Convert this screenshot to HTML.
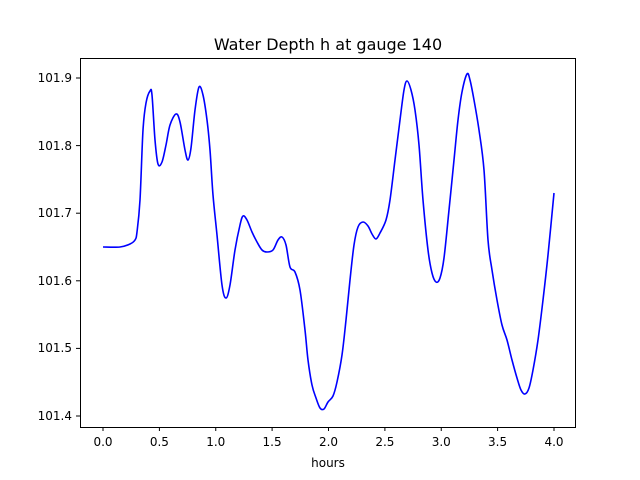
<!DOCTYPE html>
<html><head><meta charset="utf-8"><style>
html,body{margin:0;padding:0;background:#fff;}
svg{display:block;font-family:"DejaVu Sans","Liberation Sans",sans-serif;}
</style></head><body>
<svg width="640" height="480" viewBox="0 0 640 480" xmlns="http://www.w3.org/2000/svg">
<rect width="640" height="480" fill="#fff"/>
<text x="328" y="50" font-size="16" text-anchor="middle" fill="#000">Water Depth h at gauge 140</text>
<polyline id="pl" fill="none" stroke="#0000ff" stroke-width="1.6" stroke-linejoin="round" points="103,247 120,247 130,244 135,240 137,232 140,200 143,130 146,103 150,91 152,95 155,140 158,164 162,162 166,145 170,125 176,114 180,122 185,150 188,160 191,148 195,110 199,87 203,95 207,120 210,150 213,195 217,235 222,285 226,298 230,285 235,250 240,225 243,216 247,220 252,232 257,242 262,250 267,252 273,250 278,240 282,237 286,245 290,267 295,272 300,290 305,330 308,360 312,385 316,398 320,408 324,409 328,402 333,396 337,382 342,355 346,320 350,280 354,245 358,227 363,222 368,226 372,234 376,239 380,233 386,220 390,200 395,160 400,120 404,90 407,81 411,90 415,110 419,145 423,200 428,250 432,273 436,282 440,278 444,258 449,210 454,160 458,120 462,92 467,74 470,80 474,100 479,130 484,170 488,240 492,270 497,300 502,325 507,340 512,360 517,378 521,390 525,394 529,388 533,370 538,340 543,300 548,255 554,193"/>
<path id="sp" fill="none" stroke="#0000ff" stroke-width="1.6" stroke-linejoin="round" d=""/>
<rect x="80.5" y="58.5" width="495" height="369" fill="none" stroke="#000" stroke-width="1"/>
<g stroke="#000" stroke-width="1">
<line x1="103" y1="427" x2="103" y2="431"/>
<line x1="159.4" y1="427" x2="159.4" y2="431"/>
<line x1="215.75" y1="427" x2="215.75" y2="431"/>
<line x1="272.1" y1="427" x2="272.1" y2="431"/>
<line x1="328.5" y1="427" x2="328.5" y2="431"/>
<line x1="384.9" y1="427" x2="384.9" y2="431"/>
<line x1="441.25" y1="427" x2="441.25" y2="431"/>
<line x1="497.6" y1="427" x2="497.6" y2="431"/>
<line x1="554" y1="427" x2="554" y2="431"/>
<line x1="76" y1="78" x2="80" y2="78"/>
<line x1="76" y1="145.6" x2="80" y2="145.6"/>
<line x1="76" y1="213.2" x2="80" y2="213.2"/>
<line x1="76" y1="280.8" x2="80" y2="280.8"/>
<line x1="76" y1="348.4" x2="80" y2="348.4"/>
<line x1="76" y1="416" x2="80" y2="416"/>
</g>
<g font-size="12" fill="#000" text-anchor="middle">
<text x="103" y="446">0.0</text>
<text x="159.4" y="446">0.5</text>
<text x="215.75" y="446">1.0</text>
<text x="272.1" y="446">1.5</text>
<text x="328.5" y="446">2.0</text>
<text x="384.9" y="446">2.5</text>
<text x="441.25" y="446">3.0</text>
<text x="497.6" y="446">3.5</text>
<text x="554" y="446">4.0</text>
<text x="328" y="467">hours</text>
</g>
<g font-size="12" fill="#000" text-anchor="end">
<text x="72" y="82">101.9</text>
<text x="72" y="150">101.8</text>
<text x="72" y="217">101.7</text>
<text x="72" y="285">101.6</text>
<text x="72" y="352">101.5</text>
<text x="72" y="420">101.4</text>
</g>
</svg>
<script>
(function(){
var pl=document.getElementById('pl');
var p=pl.getAttribute('points').trim().split(/\s+/).map(function(s){return s.split(',').map(Number);});
var d='M'+p[0][0]+','+p[0][1];
for(var i=0;i<p.length-1;i++){
var p0=p[i-1]||p[i],p1=p[i],p2=p[i+1],p3=p[i+2]||p2;
var c1x=p1[0]+(p2[0]-p0[0])/6,c1y=p1[1]+(p2[1]-p0[1])/6;
var c2x=p2[0]-(p3[0]-p1[0])/6,c2y=p2[1]-(p3[1]-p1[1])/6;
d+=' C'+c1x.toFixed(2)+','+c1y.toFixed(2)+' '+c2x.toFixed(2)+','+c2y.toFixed(2)+' '+p2[0]+','+p2[1];
}
document.getElementById('sp').setAttribute('d',d);
pl.style.display='none';
})();
</script>
</body></html>
